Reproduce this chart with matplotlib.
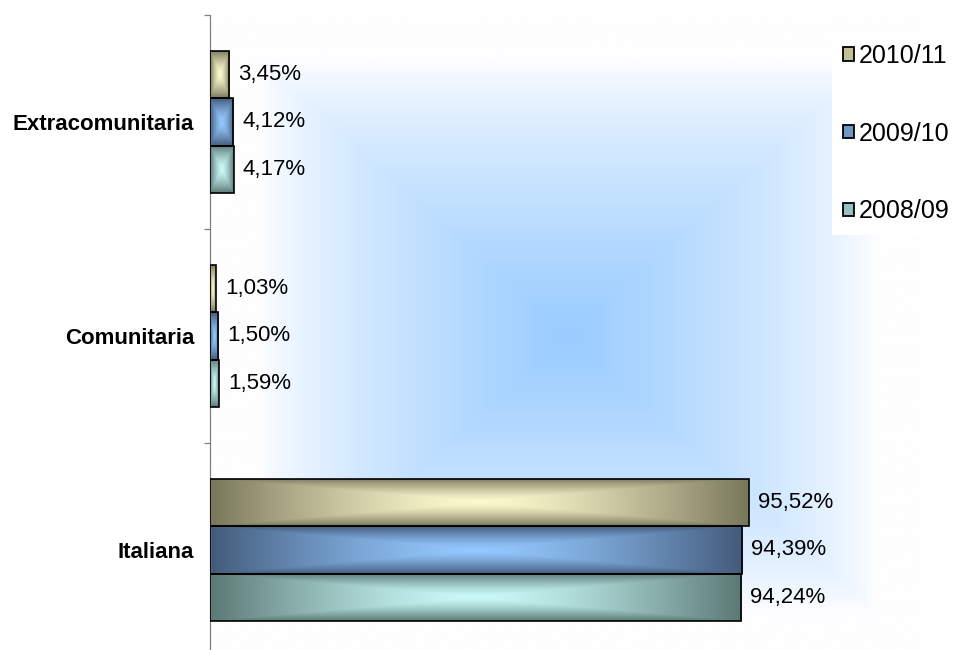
import numpy as np
import matplotlib
matplotlib.use("Agg")
import matplotlib.pyplot as plt
from matplotlib.patches import Patch

# ---- data ----
categories = ["Italiana", "Comunitaria", "Extracomunitaria"]
series_labels = ["2010/11", "2009/10", "2008/09"]
values_2010 = [95.52, 1.03, 3.45]
values_2009 = [94.39, 1.50, 4.12]
values_2008 = [94.24, 1.59, 4.17]

plt.rcParams['font.family'] = ['Liberation Sans', 'DejaVu Sans']

# (edge colour, centre colour) of the "from centre" gradient of each series
series_colors = [
    ((122, 120, 92), (252, 250, 205)),   # 2010/11
    ((68, 92, 124), (148, 200, 255)),    # 2009/10
    ((92, 122, 118), (202, 250, 248)),   # 2008/09
]
series_values = [values_2010, values_2009, values_2008]


def rect_gradient(edge, centre, n=96, p=1.4):
    u = np.linspace(-1, 1, n)
    X, Y = np.meshgrid(u, u)
    t = np.maximum(np.abs(X), np.abs(Y)) ** p
    e = np.array(edge) / 255.0
    c = np.array(centre) / 255.0
    return c[None, None, :] * (1 - t[..., None]) + e[None, None, :] * t[..., None]


W, H = 958, 650
fig = plt.figure(figsize=(W / 100, H / 100), dpi=100)
fig.patch.set_facecolor("white")
ax = fig.add_axes([210 / W, (H - 657) / H, 716 / W, 642 / H])

xmax = 127.0
ymin, ymax = -0.5, 2.5

# background gradient of the plot area
n = 200
u = np.linspace(-1, 1, n)
X, Y = np.meshgrid(u, u)
t = np.maximum(np.abs(X), np.abs(Y))
f = np.clip(1 - t / 0.86, 0, 1) ** 0.75
edge_bg = np.array([254, 254, 255]) / 255.0
cent_bg = np.array([153, 204, 255]) / 255.0
bg = edge_bg[None, None, :] * (1 - f[..., None]) + cent_bg[None, None, :] * f[..., None]
ax.imshow(bg, extent=(0, xmax, ymin, ymax), aspect='auto', zorder=0,
          interpolation='bilinear')

bar_h = 0.221
offsets = [bar_h, 0.0, -bar_h]
y = np.arange(len(categories))

for vals, off, (ec, cc), lab in zip(series_values, offsets, series_colors, series_labels):
    bars = ax.barh(y + off, vals, height=bar_h, facecolor='none',
                   edgecolor='black', linewidth=1.2, zorder=3, label=lab)
    grad = rect_gradient(ec, cc)
    for b, v in zip(bars, vals):
        x0, y0 = b.get_x(), b.get_y()
        im = ax.imshow(grad, extent=(x0, x0 + b.get_width(), y0, y0 + b.get_height()),
                       aspect='auto', zorder=2, interpolation='bilinear')
        im.set_clip_path(b)
        ax.annotate(f"{v:.2f}%".replace('.', ','), xy=(v, y0 + b.get_height() / 2),
                    xytext=(6.5, 0), textcoords='offset points', va='center',
                    ha='left', fontsize=16, color='black', zorder=4)

ax.set_xlim(0, xmax)
ax.set_ylim(ymin, ymax)
ax.set_facecolor('white')

for s in ['top', 'right', 'bottom']:
    ax.spines[s].set_visible(False)
ax.spines['left'].set_color('#808080')
ax.spines['left'].set_linewidth(0.9)
ax.set_xticks([])
ax.set_yticks(y)
ax.set_yticklabels(categories, fontsize=16, fontweight='bold')
ax.tick_params(axis='y', which='major', length=0, pad=11.5)
ax.set_yticks([-0.5, 0.5, 1.5, 2.5], minor=True)
ax.tick_params(axis='y', which='minor', length=4, color='#808080', width=0.9)

handles = [Patch(facecolor=tuple(np.array(cc) / 255 * 0.55 + np.array(ec) / 255 * 0.45),
                 edgecolor='black', linewidth=1.3)
           for ec, cc in series_colors]
leg = ax.legend(handles, series_labels, loc='upper left',
                bbox_to_anchor=(832 / W, 1 - 33 / H), bbox_transform=fig.transFigure,
                fontsize=18, frameon=True, fancybox=False, borderaxespad=0,
                borderpad=0.44, handlelength=0.44, handleheight=0.44,
                handletextpad=0.18, labelspacing=2.15)
leg.get_frame().set_facecolor('white')
leg.get_frame().set_edgecolor('none')
leg.get_frame().set_alpha(1)
leg.set_zorder(5)

fig.savefig("out.png", dpi=100)
